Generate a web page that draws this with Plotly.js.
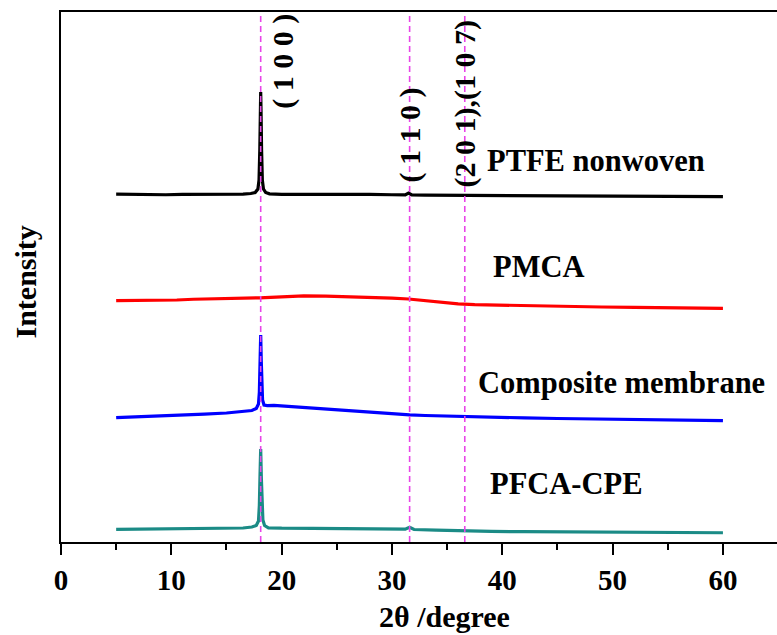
<!DOCTYPE html>
<html>
<head>
<meta charset="utf-8">
<script src="https://cdn.plot.ly/plotly-3.0.1.min.js"></script>
<style>html,body{margin:0;padding:0;background:#fff;}#chart{width:777px;height:635px;}</style>
</head>
<body>
<div id="chart"></div>
<script>
// ---- data (2θ in degrees, intensity in arbitrary offset units) ----
const seriesNames = ['PTFE nonwoven', 'PMCA', 'Composite membrane', 'PFCA-CPE'];

const ptfeX = [5, 6.5, 8, 9.5, 11, 12.5, 14, 15.5, 16.5, 17.2, 17.6, 17.85, 17.95, 18.02, 18.07, 18.1, 18.13, 18.18, 18.25, 18.35, 18.55, 18.9, 20, 22, 24, 26, 28, 30, 31.2, 31.5, 31.8, 33, 35, 36.6, 38, 41, 44, 47, 50, 53, 56, 58, 60];
const ptfeY = [65.62, 65.55, 65.6, 65.52, 65.58, 65.6, 65.55, 65.62, 65.65, 65.75, 65.95, 66.6, 68.3, 74.0, 81.5, 84.9, 81.5, 74.0, 68.3, 66.6, 65.95, 65.7, 65.6, 65.58, 65.62, 65.55, 65.58, 65.52, 65.5, 65.85, 65.5, 65.45, 65.42, 65.4, 65.35, 65.38, 65.3, 65.28, 65.25, 65.22, 65.2, 65.18, 65.15];

const pmcaX = [5, 7, 9, 10.5, 12, 14, 16, 18, 20, 22, 24, 26, 28, 30, 31.5, 33, 34.5, 36, 37.5, 40, 43, 46, 49, 52, 55, 58, 60];
const pmcaY = [45.53, 45.57, 45.55, 45.66, 45.8, 45.85, 45.94, 46.07, 46.26, 46.42, 46.38, 46.3, 46.15, 46.0, 45.85, 45.5, 45.19, 44.94, 44.79, 44.66, 44.53, 44.42, 44.34, 44.26, 44.19, 44.13, 44.09];

const compX = [5, 7, 9, 11, 13, 15, 16.5, 17.3, 17.7, 17.9, 17.98, 18.04, 18.1, 18.15, 18.2, 18.27, 18.4, 18.7, 19.3, 20.5, 22, 24, 26, 28, 30, 31.6, 33, 35, 36.6, 39, 42, 45, 48, 51, 54, 57, 60];
const compY = [23.45, 23.58, 23.74, 23.9, 24.11, 24.34, 24.57, 24.81, 25.19, 26.04, 28.3, 33.4, 39.06, 34.3, 29.6, 26.8, 25.85, 25.75, 25.79, 25.62, 25.38, 25.04, 24.72, 24.42, 24.15, 24.0, 23.87, 23.74, 23.64, 23.53, 23.42, 23.3, 23.21, 23.11, 23.02, 22.94, 22.89];

const pfcaX = [5, 7.5, 10, 12.5, 15, 16.5, 17.3, 17.7, 17.9, 17.98, 18.04, 18.1, 18.16, 18.22, 18.3, 18.45, 18.8, 20, 22.5, 25, 27.5, 29.5, 31.2, 31.6, 32, 34, 36.6, 39, 42, 45, 48, 51, 54, 57, 60];
const pfcaY = [2.4, 2.42, 2.45, 2.49, 2.55, 2.64, 2.83, 3.11, 3.96, 6.98, 12.64, 17.55, 12.08, 6.98, 4.15, 3.11, 2.68, 2.6, 2.58, 2.55, 2.53, 2.49, 2.42, 2.79, 2.36, 2.23, 2.08, 2.0, 1.94, 1.89, 1.85, 1.81, 1.79, 1.77, 1.75];

const refLines = [18.1, 31.6, 36.6];
const refLabels = ['( 1 0 0 )', '( 1 1 0 )', '(2 0 1),(1 0 7)'];

const xTicks = [0, 10, 20, 30, 40, 50, 60];
const xTitle = '2θ /degree';
const yTitle = 'Intensity';

// ---- styling / drawing ----
const FONT = 'Liberation Serif, Times New Roman, serif';
const colors = ['#000000', '#ff0000', '#0000ff', '#1b8b86'];
const xs = [ptfeX, pmcaX, compX, pfcaX];
const ys = [ptfeY, pmcaY, compY, pfcaY];

const traces = seriesNames.map((n, i) => ({
  type: 'scatter', mode: 'lines', name: n,
  x: xs[i], y: ys[i],
  line: {color: colors[i], width: 3.2, shape: 'linear'},
  hoverinfo: 'x+y+name'
}));

const shapes = refLines.map(v => ({
  type: 'line', xref: 'x', yref: 'paper', x0: v, x1: v, y0: 0, y1: 1,
  line: {color: '#e845e8', width: 1.6, dash: '6px,4px'}, layer: 'above'
}));

// label placements (data coords)
const seriesLabelPos = [[38.4, 71.9], [39.0, 51.9], [37.6, 30.0], [38.7, 10.9]];
const refLabelPos = [[20.1, 90.75], [31.6, 76.8], [36.6, 82.7]];

const boldFont = (s) => ({family: FONT, size: s, color: '#000', weight: 'bold'});

const annotations = [];
seriesNames.forEach((n, i) => annotations.push({
  x: seriesLabelPos[i][0], y: seriesLabelPos[i][1], xref: 'x', yref: 'y',
  text: n, showarrow: false, xanchor: 'left', yanchor: 'middle', font: boldFont(30.5)
}));
refLabels.forEach((t, i) => annotations.push({
  x: refLabelPos[i][0], y: refLabelPos[i][1], xref: 'x', yref: 'y',
  text: t, showarrow: false, textangle: -90, xanchor: 'center', yanchor: 'middle', font: boldFont(30)
}));
annotations.push({
  x: 0.536, y: -0.1415, xref: 'paper', yref: 'paper', text: xTitle, showarrow: false,
  xanchor: 'center', yanchor: 'middle', font: boldFont(30)
});
annotations.push({
  x: -0.05, y: 0.49, xref: 'paper', yref: 'paper', text: yTitle, showarrow: false,
  textangle: -90, xanchor: 'center', yanchor: 'middle', font: boldFont(30)
});

const layout = {
  width: 777, height: 635,
  margin: {l: 61, r: 0, t: 12, b: 93, pad: 0},
  paper_bgcolor: '#fff', plot_bgcolor: '#fff',
  showlegend: false,
  xaxis: {
    range: [0, 64.9], showgrid: false, zeroline: false,
    showline: true, linecolor: '#000', linewidth: 2, mirror: true,
    ticks: 'outside', ticklen: 11, tickwidth: 2, tickcolor: '#000',
    tickvals: xTicks, ticktext: xTicks.map(String),
    tickfont: boldFont(29),
    minor: {dtick: 5, tick0: 5, ticks: 'outside', ticklen: 6, tickwidth: 2, tickcolor: '#000'}
  },
  yaxis: {
    range: [0, 100], showgrid: false, zeroline: false,
    showline: true, linecolor: '#000', linewidth: 2,
    ticks: '', showticklabels: false
  },
  shapes: shapes,
  annotations: annotations
};

Plotly.newPlot('chart', traces, layout, {displayModeBar: false, staticPlot: true});
</script>
</body>
</html>
